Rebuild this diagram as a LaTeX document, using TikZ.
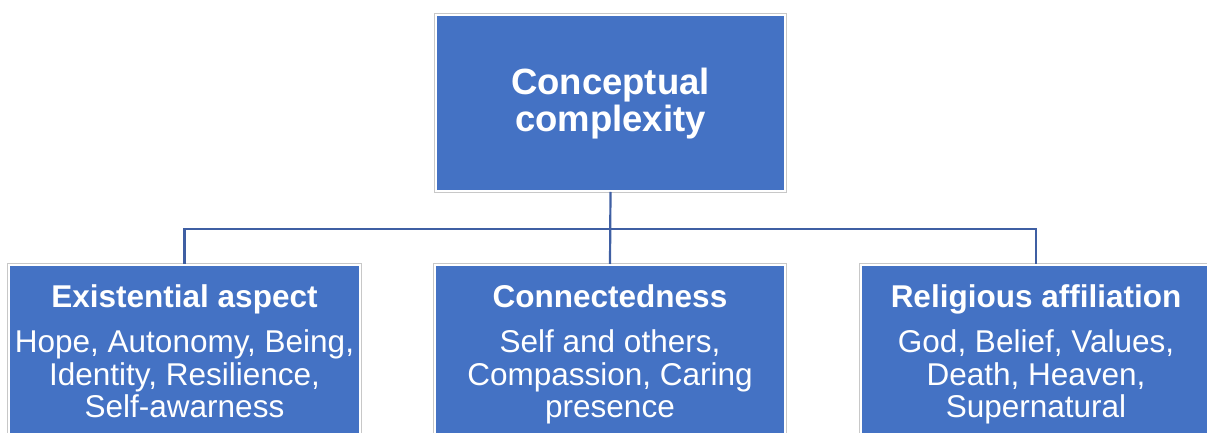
\documentclass[tikz,border=0pt]{standalone}
\usepackage{fontspec}
\setmainfont{Liberation Sans}
\definecolor{boxblue}{HTML}{4472C4}
\definecolor{linkblue}{HTML}{3F5FA3}
\definecolor{rimgray}{HTML}{C8C8C8}
\begin{document}
\begin{tikzpicture}[x=1pt,y=1pt,
  card/.style={rectangle, fill=boxblue, draw=white, line width=2pt,
    preaction={draw=rimgray, line width=4pt}, inner sep=0pt},
  conn/.style={draw=linkblue, line width=2.2pt},
  ttl/.style={text=white, font=\fontsize{31.5}{31.5}\selectfont\bfseries, anchor=base, inner sep=0pt},
  bodytxt/.style={text=white, font=\fontsize{31.5}{32.5}\selectfont, anchor=base, align=center, inner sep=0pt},
  toptxt/.style={text=white, font=\fontsize{36.5}{37}\selectfont\bfseries, anchor=base, align=center, inner sep=0pt}]
\useasboundingbox (0,0) rectangle (1207,433);
\clip (0,0) rectangle (1207,433);
% boxes
\node[card, minimum width=349pt, minimum height=176pt] (top) at (610.5,330) {};
\node[card, minimum width=351pt, minimum height=215pt] (left) at (184.5,60.5) {};
\node[card, minimum width=350pt, minimum height=215pt] (mid) at (610,60.5) {};
\node[card, minimum width=350pt, minimum height=215pt] (right) at (1036,60.5) {};
% connectors
\coordinate (bus) at (0,204);
\draw[conn] (left.north) -- (left.north |- bus) -- (right.north |- bus) -- (right.north);
\draw[conn] (top.south) -- (mid.north);
% texts (base anchor = last line's baseline)
\node[toptxt] (toplbl) at (610.5,301) {Conceptual\\complexity};
\node[ttl] (lt) at ([yshift=-43.5pt]left.north) {Existential aspect};
\node[bodytxt] (lb) at ([yshift=-154pt]left.north) {Hope, Autonomy, Being,\\Identity, Resilience,\\Self-awarness};
\node[ttl] (mt) at ([yshift=-43.5pt]mid.north) {Connectedness};
\node[bodytxt] (mb) at ([yshift=-154pt]mid.north) {Self and others,\\Compassion, Caring\\presence};
\node[ttl] (rt) at ([yshift=-43.5pt]right.north) {Religious affiliation};
\node[bodytxt] (rb) at ([yshift=-154pt]right.north) {God, Belief, Values,\\Death, Heaven,\\Supernatural};
\end{tikzpicture}
\end{document}
